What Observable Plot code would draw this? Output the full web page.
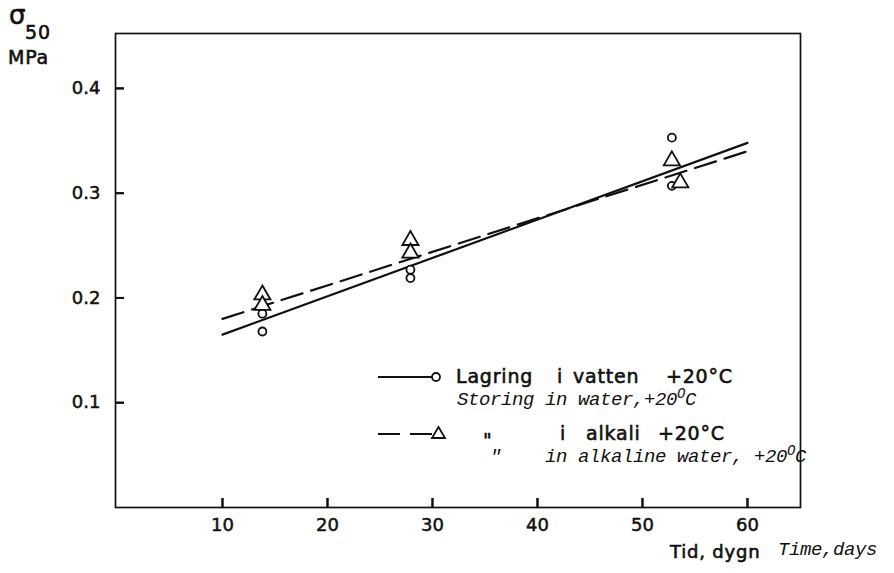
<!DOCTYPE html>
<html><head><meta charset="utf-8">
<script src="https://cdn.jsdelivr.net/npm/d3@7"></script>
<script src="https://cdn.jsdelivr.net/npm/@observablehq/plot@0.6"></script>
<style>
body{margin:0;background:#fff;}
#wrap{position:relative;width:894px;height:573px;font-family:"DejaVu Sans",sans-serif;color:#111;overflow:hidden;}
.abs{position:absolute;white-space:pre;line-height:1;}
.sans{font-family:"DejaVu Sans",sans-serif;font-size:19px;letter-spacing:0.8px;-webkit-text-stroke:0.6px #111;}
.mono{font-family:"Liberation Mono",monospace;font-style:italic;font-size:19px;letter-spacing:-0.4px;}
sup.o{font-size:14px;position:relative;top:-4px;vertical-align:top;}
#wrap g[aria-label="x-axis tick label"] text,#wrap g[aria-label="y-axis tick label"] text{stroke:#111;stroke-width:0.5px;}
</style></head>
<body><div id="wrap"></div>
<script>
// measured points: storage in water (circles) and in alkali (triangles)
const waterDays   = [13.8, 13.8, 27.9, 27.9, 52.8, 52.8];
const waterStress = [0.185, 0.168, 0.227, 0.219, 0.353, 0.307];
const alkaliDays   = [13.8, 13.8, 27.9, 27.9, 52.8, 53.6];
const alkaliStress = [0.203, 0.193, 0.255, 0.243, 0.331, 0.310];
// fitted lines
const fitDays   = [10, 60];
const waterFit  = [0.165, 0.348];
const alkaliFit = [0.180, 0.340];
// ticks
const xTicks = [10, 20, 30, 40, 50, 60];
const yTicks = [0.1, 0.2, 0.3, 0.4];
const yTickLabels = ["0.1", "0.2", "0.3", "0.4"];

const water = waterDays.map((d, i) => ({day: d, s: waterStress[i]}));
const alkali = alkaliDays.map((d, i) => ({day: d, s: alkaliStress[i]}));
const wFit = fitDays.map((d, i) => ({day: d, s: waterFit[i]}));
const aFit = fitDays.map((d, i) => ({day: d, s: alkaliFit[i]}));

const ink = "#111";
const W = 894, H = 573, mL = 115, mR = 94, mT = 33, mB = 66, tick = 9;
const chart = Plot.plot({
  width: W, height: H,
  marginLeft: mL, marginRight: mR, marginTop: mT, marginBottom: mB,
  x: {domain: [-0.19, 65.05]},
  y: {domain: [0, 0.4524]},
  style: {fontFamily: "DejaVu Sans, sans-serif", fontSize: "18px", color: ink, background: "white", overflow: "visible"},
  marks: [
    Plot.frame({stroke: ink, strokeWidth: 1.7}),
    // tick labels
    Plot.axisX({ticks: xTicks, tickSize: 0, tickPadding: 11, label: null, tickFormat: d => String(d)}),
    Plot.axisY({ticks: yTicks, tickSize: 0, tickPadding: 15, label: null, tickFormat: (d, i) => yTickLabels[i]}),
    // inward tick marks (axis ticks shifted inside the frame)
    Plot.axisX({ticks: xTicks, tickSize: tick, dy: -tick, label: null, tickFormat: () => "", strokeWidth: 2}),
    Plot.axisY({ticks: yTicks, tickSize: tick, dx: tick, label: null, tickFormat: () => "", strokeWidth: 2}),
    Plot.tickX(xTicks, {x: d => d, stroke: ink, strokeWidth: 2, insetTop: H - mT - mB - tick}),
    Plot.tickY(yTicks, {y: d => d, stroke: ink, strokeWidth: 2, insetRight: W - mL - mR - tick}),
    Plot.line(wFit, {x: "day", y: "s", stroke: ink, strokeWidth: 2.2}),
    Plot.line(aFit, {x: "day", y: "s", stroke: ink, strokeWidth: 2.2, strokeDasharray: "22,9"}),
    Plot.dot(water, {x: "day", y: "s", symbol: "circle", r: 4, stroke: ink, fill: "white", strokeWidth: 1.8}),
    Plot.dot(alkali, {x: "day", y: "s", symbol: "triangle", r: 6, stroke: ink, fill: "white", strokeWidth: 1.8})
  ]
});
const wrap = document.getElementById("wrap");
wrap.appendChild(chart);

function add(html, cls, left, top) {
  const el = document.createElement("div");
  el.className = "abs " + cls;
  el.style.left = left + "px";
  el.style.top = top + "px";
  el.innerHTML = html;
  wrap.appendChild(el);
  return el;
}
// y axis label
add("σ", "sans", 9, 2).style.fontSize = "26px";
add("50", "sans", 25, 23);
add("MPa", "sans", 8, 48);
// x axis label
add("Tid, dygn", "sans", 670, 543).style.fontSize = "18px";
add("Time,days", "mono", 778, 541);

// legend overlay
const leg = document.createElementNS("http://www.w3.org/2000/svg", "svg");
leg.setAttribute("width", W); leg.setAttribute("height", H);
leg.style.position = "absolute"; leg.style.left = "0"; leg.style.top = "0";
leg.style.pointerEvents = "none";
leg.innerHTML = `
 <line x1="378" y1="377" x2="432" y2="377" stroke="${ink}" stroke-width="2.2"/>
 <circle cx="436" cy="377" r="4" fill="white" stroke="${ink}" stroke-width="1.8"/>
 <line x1="378" y1="434" x2="434" y2="434" stroke="${ink}" stroke-width="2.2" stroke-dasharray="22,10"/>
 <path d="M438.5,427 L445,438 L432,438 Z" fill="white" stroke="${ink}" stroke-width="1.8"/>`;
wrap.appendChild(leg);

add("Lagring", "sans", 456, 367);
add("i", "sans", 557, 367);
add("vatten", "sans", 573, 367);
add("+20°C", "sans", 666, 367);
add('Storing in water,+20<sup class="o">O</sup>C', "mono", 457, 391);

add('"', "sans", 483, 431);
add("i", "sans", 560, 424);
add("alkali", "sans", 586, 424);
add("+20°C", "sans", 658, 424);
add('"', "mono", 490, 448);
add('in alkaline water, +20<sup class="o">O</sup>C', "mono", 545, 448);
</script>
</body></html>
